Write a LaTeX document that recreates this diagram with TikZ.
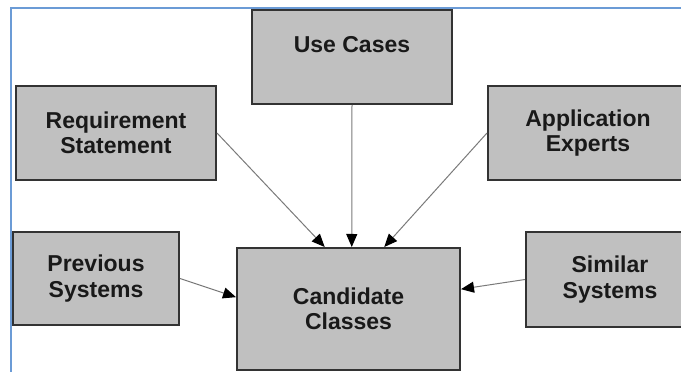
\documentclass[tikz,border=0pt]{standalone}
\usepackage{fontspec}
\setmainfont{Liberation Sans}
\usepackage{tikz}
\usetikzlibrary{positioning}
\usetikzlibrary{arrows.meta}

\definecolor{framecol}{HTML}{6B9BD6}
\definecolor{boxfill}{HTML}{C0C0C0}
\definecolor{boxline}{HTML}{333333}
\definecolor{linecol}{HTML}{7A7A7A}

\begin{document}
\begin{tikzpicture}[
        x=1pt, y=1pt,
        boxnode/.style={rectangle, draw=boxline, fill=boxfill, line width=2pt, align=center,
                        inner sep=0pt, text=black!90,
                        font=\fontsize{23}{25.5}\selectfont\bfseries},
        arrowline/.style={-{Triangle[length=13pt, width=11pt, black]}, draw=linecol, line width=1pt}
    ]

        \useasboundingbox (0,0) rectangle (681,372);
        \clip (0,0) rectangle (681,372);

        % frame
        \draw [framecol, line width=2pt] (11,-20) |- (720,364);

        \node [boxnode, minimum width=223pt, minimum height=122pt] (Cand) at (348.5,63) {Candidate\\Classes};
        \node [boxnode, minimum width=200pt, minimum height=94pt] (Use) [above=142pt of Cand, xshift=3.5pt] {Use Cases\\\mbox{}};
        \node [boxnode, minimum width=200pt, minimum height=94pt] (Req) [above left=66pt and 19pt of Cand] {Requirement\\Statement};
        \node [boxnode, minimum width=200pt, minimum height=94pt] (App) [above right=66pt and 26pt of Cand] {Application\\Experts};
        \node [boxnode, minimum width=166pt, minimum height=93pt] (Prev) [left=56pt of Cand, yshift=30.5pt] {Previous\\Systems};
        \node [boxnode, minimum width=168pt, minimum height=95pt] (Sim) [right=64pt of Cand, yshift=29.5pt] {Similar\\Systems};

        \draw [arrowline] (Use.south) -- (Cand.87) ;
        \draw [arrowline] (Req.east) -- (Cand.111) ;
        \draw [arrowline] (App.west) -- (Cand.60) ;
        \draw [arrowline] (Prev.east) -- (Cand.174) ;
        \draw [arrowline] (Sim.west) -- (Cand.10) ;

    \end{tikzpicture}
\end{document}
